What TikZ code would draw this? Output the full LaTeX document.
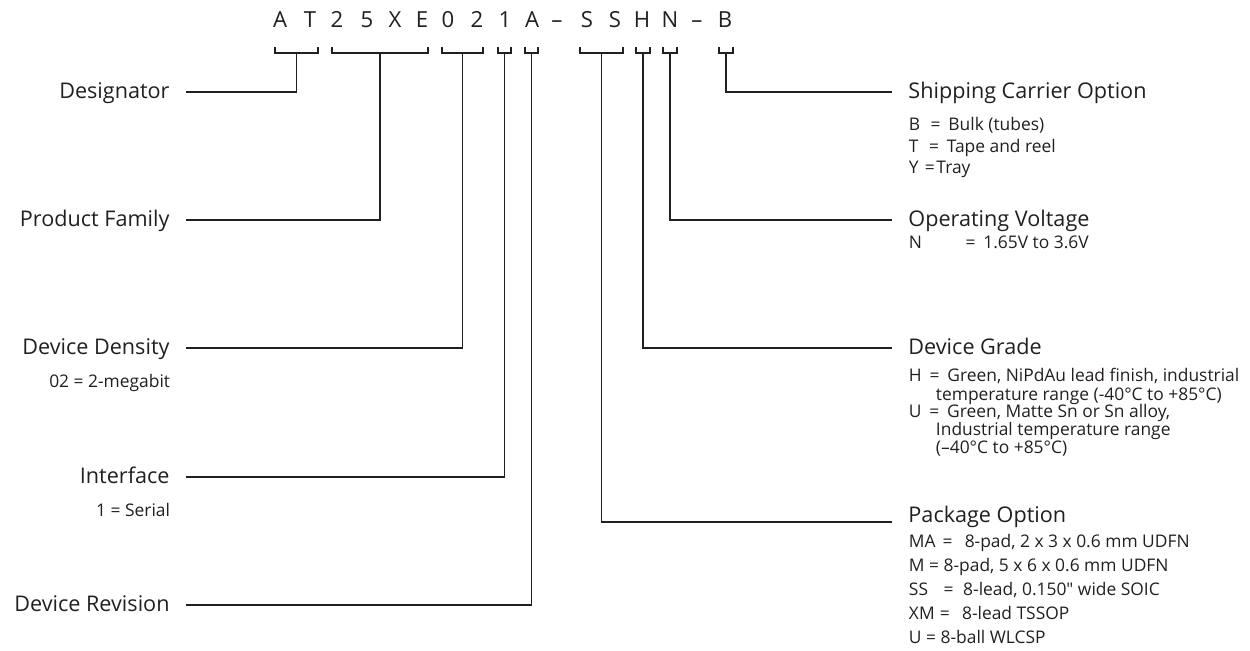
\documentclass[tikz,border=0pt]{standalone}
\usepackage{fontspec}
\setmainfont{Open Sans}
\usepackage{xcolor}
\usetikzlibrary{positioning}
\definecolor{ink}{HTML}{231F20}

\begin{document}
\begin{tikzpicture}[
  x=0.02cm, y=-0.02cm,
  line width=1.1pt, color=ink,
  pnchar/.style={anchor=base, inner sep=0pt, font=\fontsize{12.6}{14}\selectfont},
  field/.style={inner xsep=0.31cm, inner ysep=0pt, text height=0.72em, text depth=0pt,
    font=\fontsize{12.3}{14}\selectfont},
  note/.style={inner sep=0pt, font=\fontsize{9.9}{12}\selectfont}]
  \useasboundingbox (0,0) rectangle (1250,651);

  % part number
  \foreach \c/\x [count=\i] in {A/280, T/310, 2/337, 5/367, X/395, E/422, 0/448, 2/477,
      1/505, A/532, –/557, S/587, S/615, H/642, N/670, –/697, B/725}
    \node[pnchar] (pn\i) at (\x,28) {\c};

  % brackets under the fields
  \foreach \n/\xa/\xb in {des/275/318, fam/332/428, den/442/483, ifc/498/511, rev/525/538,
      pkg/580/623, grd/636/650, vol/663/677, car/719/733} {
    \draw (\xa,47) -- (\xa,53) -- (\xb,53) -- (\xb,47);
    \coordinate (b\n) at ({(\xa+\xb)/2},53);
  }

  % left side
  \node[field, anchor=east] (designator) at (186,92) {Designator};
  \node[field, anchor=east] (family) at (186,220) {Product Family};
  \node[field, anchor=east] (density) at (186,348) {Device Density};
  \node[field, anchor=east] (interface) at (186,477) {Interface};
  \node[field, anchor=east] (revision) at (186,605) {Device Revision};
  \node[note, anchor=base east] (densityval) at (171,388) {02 = 2-megabit};
  \node[note, anchor=base east] (interfaceval) at (171,516) {1 = Serial};

  % right side
  \node[field, anchor=west] (carrier) at (892,92) {Shipping Carrier Option};
  \node[field, anchor=west] (voltage) at (892,220) {Operating Voltage};
  \node[field, anchor=west] (grade) at (892,348) {Device Grade};
  \node[field, anchor=base west] (package) at (892,522) {Package Option};

  \foreach \y/\t [count=\i] in {131/{B\hspace{0.6em}=\hspace{0.45em}Bulk (tubes)},
      153/{T\hspace{0.6em}=\hspace{0.45em}Tape and reel},
      174/{Y\hspace{0.35em}=\hspace{0.1em}Tray}}
    \node[note, anchor=base west] (carrier\i) at (908,\y) {\t};
  \node[note, anchor=base west] (voltage1) at (908,249) {N\hspace{2.5em}=\hspace{0.45em}1.65V to 3.6V};
  \foreach \x/\y/\t [count=\i] in {908/382/{H\hspace{0.45em}=\hspace{0.45em}Green, NiPdAu lead finish, industrial},
      935/400/{temperature range (-40°C to +85°C)},
      908/418/{U\hspace{0.45em}=\hspace{0.45em}Green, Matte Sn or Sn alloy,},
      935/436/{Industrial temperature range},
      935/454/{(–40°C to +85°C)}}
    \node[note, anchor=base west] (grade\i) at (\x,\y) {\t};
  \foreach \y/\t [count=\i] in {547/{MA\hspace{0.4em}=\hspace{0.7em}8-pad, 2 x 3 x 0.6 mm UDFN},
      571/{M = 8-pad, 5 x 6 x 0.6 mm UDFN},
      595/{SS\hspace{0.9em}=\hspace{0.55em}8-lead, 0.150{\addfontfeatures{Ligatures=TeXOff}"} wide SOIC},
      619/{XM\hspace{0.3em}=\hspace{0.7em}8-lead TSSOP},
      643/{U = 8-ball WLCSP}}
    \node[note, anchor=base west] (package\i) at (908,\y) {\t};

  % connectors
  \draw (bdes) |- (designator);
  \draw (bfam) |- (family);
  \draw (bden) |- (density);
  \draw (bifc) |- (interface);
  \draw (brev) |- (revision);
  \draw (bcar) |- (carrier);
  \draw (bvol) |- (voltage);
  \draw (bgrd) |- (grade);
  \draw (bpkg) |- (package.base west);
\end{tikzpicture}
\end{document}
